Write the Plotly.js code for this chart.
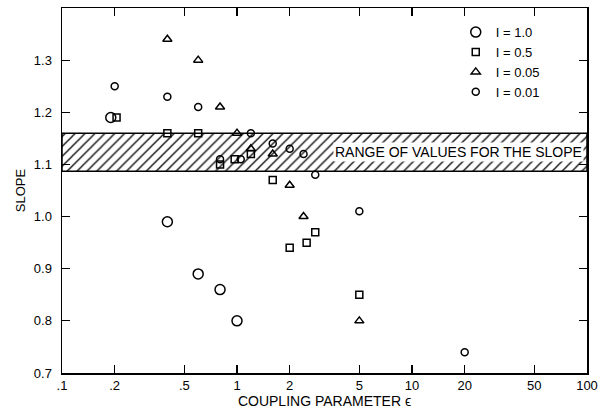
<!DOCTYPE html>
<html>
<head>
<meta charset="utf-8">
<script src="https://cdn.plot.ly/plotly-3.0.1.min.js"></script>
<style>html,body{margin:0;padding:0;background:#fff;}#chart{width:609px;height:411px;}</style>
</head>
<body>
<div id="chart"></div>
<script>
// I = 1.0 (hexagon)
const xI10 = [0.19, 0.4, 0.6, 0.8, 1.0];
const yI10 = [1.19, 0.99, 0.89, 0.86, 0.80];
// I = 0.5 (square)
const xI05 = [0.205, 0.4, 0.6, 0.8, 0.97, 1.2, 1.6, 2.0, 2.5, 2.8, 5];
const yI05 = [1.19, 1.16, 1.16, 1.10, 1.11, 1.12, 1.07, 0.94, 0.95, 0.97, 0.85];
// I = 0.05 (triangle)
const xI005 = [0.4, 0.6, 0.8, 1.0, 1.2, 1.6, 2.0, 2.4, 5];
const yI005 = [1.34, 1.30, 1.21, 1.16, 1.13, 1.12, 1.06, 1.00, 0.80];
// I = 0.01 (small circle)
const xI001 = [0.2, 0.4, 0.6, 0.8, 1.05, 1.2, 1.6, 2.0, 2.4, 2.8, 5, 20];
const yI001 = [1.25, 1.23, 1.21, 1.11, 1.11, 1.16, 1.14, 1.13, 1.12, 1.08, 1.01, 0.74];
// range of values for the slope
const bandLow = 1.087, bandHigh = 1.16;
const bandX = [0.1, 100, 100, 0.1, 0.1];
const bandY = [bandLow, bandLow, bandHigh, bandHigh, bandLow];
const xTickVals = [0.1, 0.2, 0.5, 1, 2, 5, 10, 20, 50, 100];
const xTickText = ['.1', '.2', '.5', '1', '2', '5', '10', '20', '50', '100'];
const yTickVals = [0.7, 0.8, 0.9, 1.0, 1.1, 1.2, 1.3];
const yTickText = ['0.7', '0.8', '0.9', '1.0', '1.1', '1.2', '1.3'];

const F = 'Liberation Sans, Arial, sans-serif';
const mk = (sym, size) => ({symbol: sym, size: size, color: '#000', line: {color: '#000', width: 1.5}});

const traces = [
  {x: bandX, y: bandY, mode: 'lines', fill: 'toself', fillcolor: 'rgba(255,255,255,0)',
   fillpattern: {shape: '/', size: 7, solidity: 0.18, fgcolor: '#000', bgcolor: '#fff'},
   line: {color: '#000', width: 1.5}, showlegend: false, hoverinfo: 'skip'},
  {x: xI10, y: yI10, mode: 'markers', name: 'I = 1.0', marker: mk('circle-open', 10)},
  {x: xI05, y: yI05, mode: 'markers', name: 'I = 0.5', marker: mk('square-open', 7)},
  {x: xI005, y: yI005, mode: 'markers', name: 'I = 0.05', marker: mk('triangle-up-open', 8)},
  {x: xI001, y: yI001, mode: 'markers', name: 'I = 0.01', marker: mk('circle-open', 7)}
];

const layout = {
  width: 609, height: 411,
  margin: {l: 62, r: 22, t: 8, b: 38},
  paper_bgcolor: '#fff', plot_bgcolor: '#fff',
  font: {family: F, size: 13, color: '#000'},
  showlegend: true,
  legend: {x: 0.75, y: 0.975, xanchor: 'left', yanchor: 'top', bgcolor: 'rgba(255,255,255,0)',
           font: {family: F, size: 13, color: '#000'}, itemwidth: 30, tracegroupgap: 0},
  xaxis: {type: 'log', range: [-1, 2], tickvals: xTickVals, ticktext: xTickText,
          ticks: 'inside', ticklen: 8, tickwidth: 1.2, tickcolor: '#000',
          showline: true, linecolor: '#000', linewidth: 1.5, mirror: 'ticks',
          showgrid: false, zeroline: false, tickfont: {family: F, size: 13, color: '#000'},
          title: {text: 'COUPLING PARAMETER ϵ', font: {family: F, size: 14, color: '#000'}, standoff: 2}},
  yaxis: {range: [0.7, 1.40], tickvals: yTickVals, ticktext: yTickText,
          ticks: 'inside', ticklen: 8, tickwidth: 1.2, tickcolor: '#000',
          showline: true, linecolor: '#000', linewidth: 1.5, mirror: 'ticks',
          showgrid: false, zeroline: false, tickfont: {family: F, size: 13, color: '#000'}, ticklabelstandoff: 6,
          title: {text: 'SLOPE', font: {family: F, size: 13, color: '#000'}, standoff: 5}},
  annotations: [
    {x: 0.995, xref: 'paper', y: (bandLow + bandHigh) / 2, yref: 'y', xanchor: 'right', yanchor: 'middle',
     text: 'RANGE OF VALUES FOR THE SLOPE', showarrow: false, bgcolor: '#fff',
     font: {family: F, size: 14, color: '#000'}, borderpad: 1}
  ]
};

Plotly.newPlot('chart', traces, layout, {displayModeBar: false, staticPlot: true});
</script>
</body>
</html>
